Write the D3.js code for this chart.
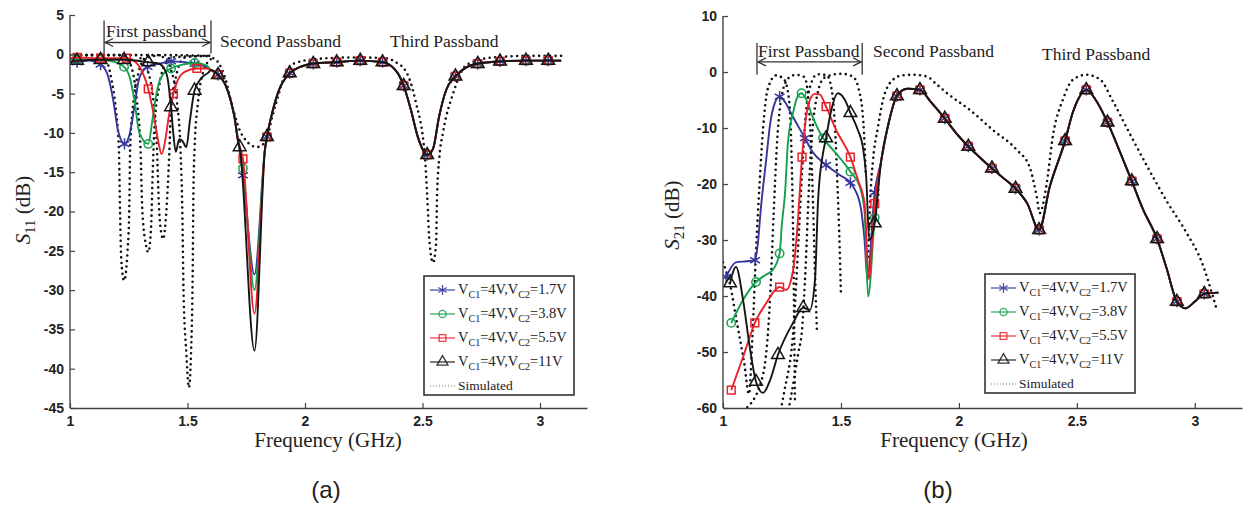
<!DOCTYPE html>
<html>
<head>
<meta charset="utf-8">
<script src="https://cdn.jsdelivr.net/npm/d3@7"></script>
<style>
  body { margin: 0; background: #fff; }
  svg text { font-family: "Liberation Serif", "Times New Roman", serif; fill: #222; }
  .tick text { font-family: "Liberation Sans", Arial, sans-serif; font-size: 14px; fill: #222; }
</style>
</head>
<body>
<svg id="fig" width="1245" height="506"></svg>
<script>
// ---- data: [GHz, dB, marker?] ----
var seriesNames = ["1.7V", "3.8V", "5.5V", "11V"];
var xTicks = [1, 1.5, 2, 2.5, 3];
var s11Ticks = [5, 0, -5, -10, -15, -20, -25, -30, -35, -40, -45];
var s21Ticks = [10, 0, -10, -20, -30, -40, -50, -60];

// S11, first passband part of each measured state
var s11Blue = [[1.0,-0.9],[1.03,-1.0,1],[1.08,-0.8],[1.13,-1.3,1],[1.16,-2.6],[1.185,-6],[1.205,-9.8],[1.232,-11.4,1],[1.255,-10],[1.275,-6.5],[1.295,-3],[1.33,-1.6,1],[1.38,-1.2],[1.43,-0.9,1],[1.53,-1.2,1],[1.58,-1.6]];
var s11Green = [[1.0,-0.7],[1.03,-0.7,1],[1.13,-0.7,1],[1.18,-0.9],[1.23,-1.6,1],[1.255,-3],[1.275,-6],[1.295,-10],[1.333,-11.4,1],[1.35,-8.5],[1.365,-5.5],[1.38,-3.5],[1.40,-2.4],[1.43,-1.8,1],[1.48,-1.3],[1.53,-1.1,1],[1.58,-1.4]];
var s11Red = [[1.0,-0.5],[1.03,-0.4,1],[1.13,-0.5,1],[1.24,-0.5,1],[1.28,-1],[1.30,-1.8],[1.333,-4.4,1],[1.355,-7.5],[1.375,-11],[1.39,-12.7],[1.405,-11],[1.42,-8],[1.44,-5,1],[1.46,-3.2],[1.49,-2.2],[1.54,-1.8,1],[1.58,-1.8]];
var s11Black = [[1.0,-1.0],[1.03,-0.8,1],[1.13,-0.7,1],[1.23,-0.7,1],[1.333,-1,1],[1.38,-1.2],[1.40,-1.8],[1.415,-3],[1.43,-6.7,1],[1.44,-10.2],[1.45,-12.4],[1.465,-10.8],[1.478,-11],[1.495,-11.8],[1.51,-8.5],[1.53,-4.6,1],[1.56,-3],[1.59,-2.3]];
// shared part of S11 after the first passband
var s11TailA = [[1.60,-2.0],[1.63,-2.6,1],[1.66,-3.8],[1.685,-6],[1.70,-8],[1.715,-11]];
var s11DipMark = [[1.736,-15.4],[1.736,-14.5],[1.736,-13.3],[1.722,-11.8]];
var s11DipDepth = [-28, -30, -33, -37.7];
var s11TailB = [[1.83,-12],[1.838,-10.5,1],[1.86,-7.5],[1.89,-4.5],[1.935,-2.4,1],[1.98,-1.6],[2.035,-1.2,1],[2.135,-1.0,1],[2.235,-0.8,1],[2.33,-1.0,1],[2.39,-2.2],[2.42,-4,1],[2.45,-7],[2.48,-10.5],[2.52,-12.8,1],[2.545,-12],[2.57,-8],[2.60,-4.6],[2.64,-2.8,1],[2.69,-1.6],[2.735,-1.2,1],[2.83,-0.9,1],[2.94,-0.8,1],[3.035,-0.8,1],[3.09,-0.8]];
// S11 simulated
var s11Sim1 = [[1.0,-0.1],[1.12,-0.1],[1.15,-0.5],[1.175,-3],[1.195,-7],[1.208,-12],[1.213,-20],[1.218,-26],[1.23,-28.8],[1.245,-25],[1.252,-20],[1.256,-12],[1.27,-6],[1.29,-2.5],[1.32,-0.5],[1.4,-0.1],[1.6,-0.2]];
var s11Sim2 = [[1.0,-0.1],[1.22,-0.1],[1.24,-0.5],[1.265,-2],[1.285,-6],[1.30,-12],[1.308,-20],[1.325,-24.5],[1.333,-25.2],[1.345,-22],[1.352,-15],[1.36,-9],[1.38,-4],[1.40,-1.5],[1.43,-0.4],[1.6,-0.2]];
var s11Sim3 = [[1.0,-0.1],[1.28,-0.1],[1.30,-0.5],[1.33,-2],[1.355,-6],[1.37,-12],[1.378,-19],[1.39,-23],[1.396,-23.5],[1.41,-20],[1.422,-13],[1.43,-7],[1.45,-3],[1.47,-1],[1.5,-0.3],[1.6,-0.2]];
var s11Sim4 = [[1.0,-0.1],[1.38,-0.1],[1.40,-0.5],[1.43,-2],[1.455,-6],[1.47,-12],[1.478,-20],[1.483,-30],[1.495,-38],[1.506,-42.4],[1.515,-38],[1.522,-28],[1.525,-18],[1.53,-12],[1.545,-6],[1.57,-2],[1.6,-0.6]];
var s11SimTail = [[1.61,-0.5],[1.63,-1],[1.66,-3],[1.69,-6.5],[1.72,-9.5],[1.75,-11],[1.795,-11.8],[1.835,-11],[1.86,-8],[1.88,-5.9],[1.91,-3],[1.95,-1.2],[2.05,-0.6],[2.2,-0.4],[2.35,-0.5],[2.38,-0.9],[2.43,-2.2],[2.47,-5.9],[2.51,-13],[2.52,-18],[2.53,-24],[2.545,-26.5],[2.558,-24],[2.562,-18],[2.572,-13],[2.587,-10],[2.63,-5],[2.69,-1.3],[2.8,-0.4],[2.95,-0.2],[3.09,-0.2]];

// S21, first passband part of each measured state
var s21Blue = [[1.013,-36.6,1],[1.055,-34],[1.10,-33.8],[1.136,-33.6,1],[1.148,-30.5],[1.16,-24.6],[1.183,-15.7],[1.20,-9.2],[1.22,-5.5],[1.24,-4.4,1],[1.265,-5.5],[1.29,-7.5],[1.347,-11.8,1],[1.38,-14.3],[1.437,-16.6,1],[1.495,-18.4],[1.54,-19.8,1],[1.58,-23.4],[1.60,-30],[1.612,-36.8]];
var s21Green = [[1.035,-44.8,1],[1.085,-40.7],[1.14,-37.5,1],[1.178,-36.3],[1.21,-35.4],[1.24,-32.4,1],[1.25,-27],[1.263,-21.6],[1.275,-12.7],[1.297,-7.3],[1.315,-4.5],[1.333,-3.8,1],[1.35,-4.7],[1.38,-8],[1.424,-11.8,1],[1.466,-13.9],[1.54,-17.8,1],[1.58,-20.5],[1.60,-25],[1.615,-40.1]];
var s21Red = [[1.035,-56.8,1],[1.085,-50.9],[1.135,-44.8,1],[1.183,-41.3],[1.24,-38.4,1],[1.268,-38.9],[1.297,-35.4],[1.315,-28],[1.335,-15.2,1],[1.347,-9.8],[1.368,-5],[1.39,-3.9],[1.41,-4],[1.437,-6.2,1],[1.48,-10.4],[1.54,-15.2,1],[1.572,-19.3],[1.60,-23.4],[1.618,-37]];
var s21Black = [[1.03,-37.7,1],[1.055,-34.8],[1.085,-40.7],[1.113,-49],[1.14,-55.3,1],[1.17,-57.3],[1.20,-55],[1.233,-50.5,1],[1.297,-44.8],[1.34,-42.1,1],[1.368,-42.5],[1.39,-37.1],[1.403,-22.9],[1.424,-14.5],[1.437,-11.8,1],[1.453,-8],[1.487,-3.8],[1.517,-5],[1.54,-7.3,1],[1.572,-10.4],[1.593,-13.4],[1.607,-18.7],[1.62,-30]];
var s21RiseMark = [-21.5, -26, -23.5, -27];
var s21Tail = [[1.67,-16],[1.70,-9.5],[1.737,-4.3,1],[1.78,-3.0],[1.835,-3.2,1],[1.88,-5.3],[1.94,-8.3,1],[1.99,-11],[2.04,-13.3,1],[2.09,-15.3],[2.14,-17.2,1],[2.19,-19],[2.24,-20.8,1],[2.29,-23.5],[2.34,-28.2,1],[2.385,-20.5],[2.45,-12.3,1],[2.483,-7.2],[2.51,-4.5],[2.54,-3.2,1],[2.58,-5],[2.63,-9,1],[2.68,-14],[2.733,-19.5,1],[2.78,-24.5],[2.84,-29.8,1],[2.88,-35],[2.924,-41,1],[2.96,-42.2],[3.0,-41],[3.04,-39.6,1],[3.1,-39.4]];
// S21 simulated (first passband part of each state, then the shared tail)
var s21Sim1 = [[1.0,-34],[1.03,-38],[1.06,-45],[1.09,-52],[1.11,-57.5],[1.125,-47],[1.14,-32],[1.155,-20],[1.17,-10],[1.19,-3],[1.225,-0.6],[1.26,-1.4],[1.28,-5],[1.29,-14],[1.297,-28],[1.305,-59]];
var s21Sim2 = [[1.0,-62],[1.1,-60],[1.17,-54],[1.2,-40],[1.215,-25],[1.23,-12],[1.25,-4],[1.28,-1],[1.31,-0.5],[1.345,-0.9],[1.36,-4],[1.372,-12],[1.382,-24],[1.39,-36],[1.398,-46]];
var s21Sim3 = [[1.0,-75],[1.2,-66],[1.26,-57],[1.30,-45],[1.32,-30],[1.335,-18],[1.35,-8],[1.37,-2.5],[1.40,-0.4],[1.44,-0.6],[1.46,-3],[1.475,-10],[1.485,-20],[1.495,-32],[1.50,-40]];
var s21Sim4 = [[1.0,-80],[1.25,-65],[1.32,-50],[1.335,-46],[1.35,-35],[1.365,-20],[1.38,-10],[1.40,-4],[1.43,-1],[1.50,-0.3],[1.55,-0.8],[1.575,-3],[1.595,-9],[1.605,-18]];
var s21SimTail = [[1.615,-33],[1.625,-22],[1.636,-15.7],[1.657,-9.8],[1.678,-5],[1.72,-1.4],[1.76,-0.6],[1.805,-0.5],[1.864,-0.8],[1.9,-2],[1.95,-3.8],[2.047,-6.8],[2.145,-10.4],[2.245,-13.9],[2.3,-17],[2.33,-22.3],[2.343,-25.2],[2.37,-20.5],[2.4,-11],[2.44,-5],[2.483,-1.4],[2.54,-0.5],[2.6,-1.4],[2.65,-5],[2.724,-11],[2.8,-17],[2.88,-23],[2.966,-28.8],[3.03,-34],[3.076,-40],[3.09,-42]];

// annotations: label anchors [text, GHz, dB]
var bandLabelsA = [["First passband", 1.153, 2.2], ["Second Passband", 1.638, 0.9], ["Third Passband", 2.362, 0.9]];
var bandLabelsB = [["First Passband", 1.148, 2.7], ["Second Passband", 1.636, 2.7], ["Third Passband", 2.352, 2.1]];

var svg = d3.select("#fig");
var colors = ["#35359c", "#14a04e", "#e8222a", "#151515"];
var symbols = [d3.symbolAsterisk, d3.symbolCircle, d3.symbolSquare, d3.symbolTriangle];
var symbolSizes = [90, 55, 60, 70];

function drawPanel(cfg) {
  var x = d3.scaleLinear().domain([1, 3.2]).range([cfg.left, cfg.right]);
  var y = d3.scaleLinear().domain(cfg.yDomain).range([cfg.bottom, cfg.top]);

  svg.append("clipPath").attr("id", "clip" + cfg.id)
    .append("rect")
    .attr("x", cfg.left).attr("y", cfg.top - 4)
    .attr("width", cfg.right - cfg.left).attr("height", cfg.bottom - cfg.top + 4);

  var line = d3.line()
    .x(function (d) { return x(d[0]); })
    .y(function (d) { return y(d[1]); })
    .curve(d3.curveMonotoneX);

  var plot = svg.append("g").attr("clip-path", "url(#clip" + cfg.id + ")");

  // simulated (dotted)
  cfg.sims.forEach(function (s) {
    plot.append("path").attr("d", line(s))
      .attr("fill", "none").attr("stroke", "#111")
      .attr("stroke-width", 2.6).attr("stroke-linecap", "round")
      .attr("stroke-dasharray", "0,5.5");
  });

  // measured
  cfg.measured.forEach(function (s, i) {
    plot.append("path").attr("d", line(s))
      .attr("fill", "none").attr("stroke", colors[i]).attr("stroke-width", 1.9);
    plot.selectAll(".m" + i)
      .data(s.filter(function (d) { return d[2]; }))
      .enter().append("path")
      .attr("transform", function (d) { return "translate(" + x(d[0]) + "," + y(d[1]) + ")"; })
      .attr("d", d3.symbol().type(symbols[i]).size(symbolSizes[i]))
      .attr("fill", "none").attr("stroke", colors[i]).attr("stroke-width", 1.5);
  });

  // axes (ticks inside)
  var xAxis = svg.append("g").attr("transform", "translate(0," + cfg.bottom + ")")
    .call(d3.axisBottom(x).tickValues(xTicks).tickSize(-5).tickSizeOuter(0).tickPadding(8)
      .tickFormat(function (d) { return String(d); }));
  var yAxis = svg.append("g").attr("transform", "translate(" + cfg.left + ",0)")
    .call(d3.axisLeft(y).tickValues(cfg.yTicks).tickSize(-5).tickSizeOuter(0).tickPadding(6)
      .tickFormat(function (d) { return String(d); }));
  [xAxis, yAxis].forEach(function (a) {
    a.select(".domain").attr("stroke", "#444").attr("stroke-width", 1.4);
    a.selectAll(".tick line").attr("stroke", "#444").attr("stroke-width", 1.2);
    a.selectAll(".tick text").attr("font-weight", "bold").attr("fill", "#2a2a2a");
  });
  yAxis.select(".domain").attr("d", "M0," + cfg.top + "V" + cfg.bottom);

  // axis titles
  svg.append("text").attr("x", cfg.xTitleX).attr("y", cfg.bottom + 39)
    .attr("text-anchor", "middle").attr("font-size", 21).text("Frequency (GHz)");
  var yt = svg.append("text")
    .attr("transform", "translate(" + cfg.yTitleX + "," + cfg.yTitleY + ") rotate(-90)")
    .attr("text-anchor", "middle").attr("font-size", 21);
  yt.append("tspan").attr("font-style", "italic").text("S");
  yt.append("tspan").attr("font-size", 15).attr("dy", 5).text(cfg.sub);
  yt.append("tspan").attr("dy", -5).text(" (dB)");

  // panel label
  svg.append("text").attr("x", cfg.panelX).attr("y", 498).attr("text-anchor", "middle")
    .style("font-family", "'Liberation Sans', Arial, sans-serif").attr("font-size", 24)
    .text(cfg.panel);

  // band annotations
  cfg.labels.forEach(function (l) {
    svg.append("text").attr("x", x(l[1])).attr("y", y(l[2]))
      .attr("font-size", 17.5).attr("fill", "#2b2b33").text(l[0]);
  });
  var e0 = x(cfg.edges[0]), e1 = x(cfg.edges[1]);
  var ba = svg.append("g").attr("stroke", "#333").attr("stroke-width", 1.3).attr("fill", "none");
  ba.append("line").attr("x1", e0).attr("x2", e0).attr("y1", y(cfg.edgeDb[0])).attr("y2", y(cfg.edgeDb[1]));
  ba.append("line").attr("x1", e1).attr("x2", e1).attr("y1", y(cfg.edgeDb[0])).attr("y2", y(cfg.edgeDb[1]));
  var ay = y(cfg.edgeDb[2]);
  ba.append("line").attr("x1", e0 + 1).attr("x2", e1 - 1).attr("y1", ay).attr("y2", ay);
  ba.append("path").attr("d", "M" + (e0 + 9) + "," + (ay - 4) + "L" + (e0 + 1) + "," + ay + "L" + (e0 + 9) + "," + (ay + 4));
  ba.append("path").attr("d", "M" + (e1 - 9) + "," + (ay - 4) + "L" + (e1 - 1) + "," + ay + "L" + (e1 - 9) + "," + (ay + 4));

  // legend
  var lg = svg.append("g").attr("transform", "translate(" + cfg.legend[0] + "," + cfg.legend[1] + ")");
  lg.append("rect").attr("width", 150).attr("height", 119)
    .attr("fill", "#fff").attr("stroke", "#333").attr("stroke-width", 1.6);
  seriesNames.forEach(function (n, i) {
    var ry = 14 + i * 24;
    lg.append("line").attr("x1", 6).attr("x2", 31).attr("y1", ry).attr("y2", ry)
      .attr("stroke", colors[i]).attr("stroke-width", 1.3).attr("opacity", 0.85);
    lg.append("path").attr("transform", "translate(18.5," + ry + ")")
      .attr("d", d3.symbol().type(symbols[i]).size(symbolSizes[i] * 0.75))
      .attr("fill", "none").attr("stroke", colors[i]).attr("stroke-width", 1.3).attr("opacity", 0.85);
    var t = lg.append("text").attr("x", 34).attr("y", ry + 4).attr("font-size", 14.5);
    t.append("tspan").text("V");
    t.append("tspan").attr("font-size", 10).attr("dy", 4).text("C1");
    t.append("tspan").attr("dy", -4).text("=4V,V");
    t.append("tspan").attr("font-size", 10).attr("dy", 4).text("C2");
    t.append("tspan").attr("dy", -4).text("=" + n);
  });
  lg.append("line").attr("x1", 6).attr("x2", 31).attr("y1", 110).attr("y2", 110)
    .attr("stroke", "#777").attr("stroke-width", 1).attr("stroke-dasharray", "1,2");
  lg.append("text").attr("x", 34).attr("y", 114).attr("font-size", 13.5).text("Simulated");
}

drawPanel({
  id: "a", left: 70, right: 587, top: 15, bottom: 408,
  yDomain: [-45, 5], yTicks: s11Ticks, sub: "11",
  xTitleX: 328, yTitleX: 30, yTitleY: 210, panel: "(a)", panelX: 326,
  legend: [424, 276],
  edges: [1.145, 1.6], edgeDb: [4.3, 0.1, 1.5],
  labels: bandLabelsA,
  sims: [s11Sim1, s11Sim2, s11Sim3, s11Sim4, s11SimTail],
  measured: [s11Blue, s11Green, s11Red, s11Black].map(function (s, i) {
    var mid = [[s11DipMark[i][0], s11DipMark[i][1], 1], [1.785, s11DipDepth[i]]];
    return s.concat(s11TailA, mid, s11TailB);
  })
});

drawPanel({
  id: "b", left: 723, right: 1242, top: 16, bottom: 408,
  yDomain: [-60, 10], yTicks: s21Ticks, sub: "21",
  xTitleX: 954, yTitleX: 679, yTitleY: 215, panel: "(b)", panelX: 938,
  legend: [985, 274],
  edges: [1.144, 1.59], edgeDb: [5.2, -0.5, 1.8],
  labels: bandLabelsB,
  sims: [s21Sim1, s21Sim2, s21Sim3, s21Sim4, s21SimTail],
  measured: [s21Blue, s21Green, s21Red, s21Black].map(function (s, i) {
    return s.concat([[1.643, s21RiseMark[i], 1]], s21Tail);
  })
});
</script>
</body>
</html>
